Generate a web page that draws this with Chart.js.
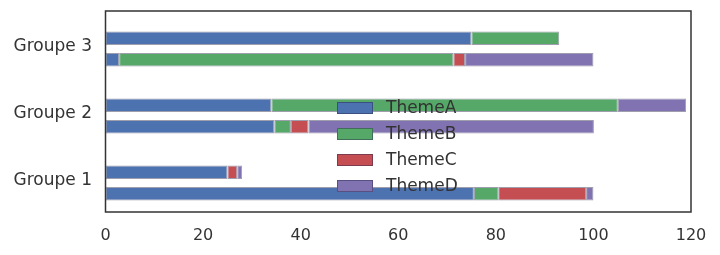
<!DOCTYPE html>
<html>
<head>
<meta charset="utf-8">
<script src="https://cdn.jsdelivr.net/npm/chart.js@4/dist/chart.umd.min.js"></script>
<style>
  html, body { margin: 0; padding: 0; background: #fff; }
  #chart { display: block; }
</style>
</head>
<body>
<canvas id="chart" width="720" height="255"></canvas>
<script>
// categories, top to bottom
const groups = ['Groupe 3', 'Groupe 2', 'Groupe 1'];
const themes = ['ThemeA', 'ThemeB', 'ThemeC', 'ThemeD'];
const colors = ['#4C72B0', '#55A868', '#C44E52', '#8172B2'];

// upper bar of each group
const upperA = [75, 34, 25];
const upperB = [18, 71, 0];
const upperC = [0, 0, 2];
const upperD = [0, 14, 1];

// lower bar of each group
const lowerA = [2.8, 34.6, 75.5];
const lowerB = [68.5, 3.4, 5];
const lowerC = [2.4, 3.6, 18];
const lowerD = [26.3, 58.5, 1.5];

const xTicks = [0, 20, 40, 60, 80, 100, 120];

const upper = [upperA, upperB, upperC, upperD];
const lower = [lowerA, lowerB, lowerC, lowerD];

const textColor = '#333';
const edge = 'rgba(40, 40, 70, 0.45)';

const datasets = [];
themes.forEach((name, i) => {
    datasets.push({ label: name, data: upper[i], stack: 'upper', backgroundColor: colors[i] });
    datasets.push({ label: name, data: lower[i], stack: 'lower', backgroundColor: colors[i] });
});
datasets.forEach(ds => {
    ds.borderColor = edge;
    ds.borderWidth = 1;
    ds.borderSkipped = false;
    ds.categoryPercentage = 0.645;
    ds.barPercentage = 0.63;
});

// the pair of bars sits a bit below the group label in the original,
// so the frame is lifted a little above the category band
const frameShift = -4.5;
const labelShift = -2.5;

// box around the plot
const framePlugin = {
    id: 'frame',
    afterDatasetsDraw(chart) {
        const a = chart.chartArea;
        const ctx = chart.ctx;
        ctx.save();
        ctx.strokeStyle = '#333';
        ctx.lineWidth = 1.5;
        ctx.strokeRect(a.left, a.top + frameShift, a.right - a.left, a.bottom - a.top);
        ctx.restore();
    }
};

// legend sitting inside the plot, no frame
const legendPlugin = {
    id: 'innerLegend',
    afterDraw(chart) {
        const ctx = chart.ctx;
        ctx.save();
        ctx.font = '17px "DejaVu Sans"';
        ctx.textBaseline = 'middle';
        themes.forEach((name, i) => {
            const y = 108 + i * 26;
            ctx.fillStyle = colors[i];
            ctx.fillRect(337, y - 6, 36, 12);
            ctx.strokeStyle = edge;
            ctx.lineWidth = 1;
            ctx.strokeRect(337.5, y - 5.5, 35, 11);
            ctx.fillStyle = textColor;
            ctx.fillText(name, 386, y + 1);
        });
        ctx.restore();
    }
};

new Chart(document.getElementById('chart'), {
    type: 'bar',
    data: { labels: groups, datasets: datasets },
    options: {
        indexAxis: 'y',
        responsive: false,
        animation: false,
        layout: { padding: { top: 15.5, right: 29, left: 0, bottom: 0 } },
        plugins: {
            legend: { display: false },
            tooltip: { enabled: false }
        },
        scales: {
            x: {
                stacked: true,
                min: 0,
                max: 120,
                afterBuildTicks(scale) {
                    scale.ticks = xTicks.map(v => ({ value: v }));
                },
                afterFit(scale) {
                    scale.height = 38.5;
                    scale.paddingLeft = 0;
                    scale.paddingRight = 0;
                },
                grid: { display: false, drawTicks: false },
                border: { display: false },
                ticks: { color: textColor, padding: 10, font: { family: 'DejaVu Sans', size: 16 } }
            },
            y: {
                stacked: true,
                afterFit(scale) {
                    scale.width = 105.5;
                    scale.paddingTop = 0;
                    scale.paddingBottom = 0;
                },
                grid: { display: false, drawTicks: false },
                border: { display: false },
                ticks: { color: textColor, padding: 13.5, labelOffset: labelShift, font: { family: 'DejaVu Sans', size: 17 } }
            }
        }
    },
    plugins: [framePlugin, legendPlugin]
});
</script>
</body>
</html>
